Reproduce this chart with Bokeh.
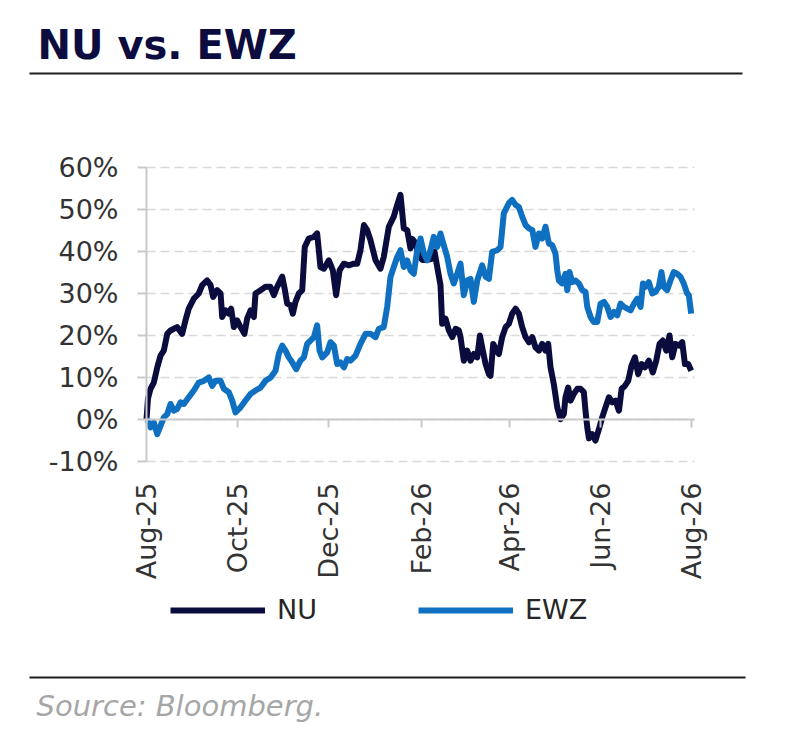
import math
import numpy as np
import pandas as pd
from bokeh.plotting import figure
from bokeh.models import (Range1d, FixedTicker, PrintfTickFormatter, DatetimeTickFormatter,
                          LinearAxis, DatetimeAxis, Grid,
                          Legend, LegendItem, ColumnDataSource)
from bokeh.core.properties import value
from bokeh.embed import file_html
from bokeh.resources import INLINE

# ---------------- data (days after 1 Aug 2025, cumulative return in %) ----------------
base_date = "2025-08-01"

nu_days = [0, 1, 2.7, 4.9, 7.2, 9.4, 11.6, 13.9, 16.1, 20.5,
           23.9, 26.1, 28.3, 31.7, 35, 37.3, 40.6, 42.9, 44.6, 47.3,
           49.6, 50.7, 52.9, 55.1, 56.7, 58.5, 60.7, 63, 65.6, 67.4,
           69.7, 71.9, 73, 76.4, 79.7, 83, 85.3, 87.5, 90.9, 92.7,
           94.2, 96.4, 98, 99.8, 102, 104.3, 106, 108.7, 112.1, 114.3,
           116.5, 118.8, 122.1, 124.8, 127, 129.3, 132.2, 135.5, 138.9, 141.1,
           143.3, 145.6, 147.8, 150, 153.4, 156.7, 158.9, 162.3, 165.6, 167.9,
           170.1, 172.3, 174.6, 176.8, 178, 180.2, 182.4, 184.7, 188, 190.7,
           192.9, 194.7, 196.9, 198, 200.3, 202.5, 204.8, 207, 209.2, 210.3,
           212.5, 214.8, 217, 219.2, 221.5, 223.3, 224.8, 227.1, 229.3, 230.4,
           232.2, 234.4, 236, 238.2, 240.5, 242.7, 244.9, 247.2, 249.4, 251.6,
           253.9, 256.1, 258.4, 260.5, 262.8, 265, 267.2, 269, 270.6, 272.8,
           275.1, 277.3, 279.5, 280.6, 282.4, 284, 286.2, 288.5, 290.7, 292.9,
           294, 295.2, 296.3, 298.5, 300.7, 303, 305.2, 307.4, 309.7, 311.9,
           314.1, 316.4, 318.2, 320.4, 322.6, 324.8, 327.1, 329.3, 331.6, 333.8,
           336.4, 339.1, 341.4, 343.6, 345.8, 348.1, 350.3, 352.1, 354.3, 356.6,
           358.8, 360.6, 362.8, 364.8]
nu_values = [0, 5, 7.3, 8.8, 12.4, 15.2, 16.4, 20.4, 21.2, 22,
             20.4, 23.6, 26.4, 28.8, 30, 32, 33.1, 32, 29.2, 30.8,
             30, 24.4, 26, 25.2, 26.4, 22, 23.6, 22, 20.4, 24,
             26, 24.4, 30, 30.8, 31.6, 31.6, 29.6, 31.6, 34, 30.8,
             27.6, 27.2, 25.2, 28, 30, 30.8, 41.1, 43.1, 43.5, 44.3,
             36.3, 35.9, 37.9, 35.5, 29.6, 35.5, 37.1, 36.7, 37.1, 37.1,
             40.3, 46.3, 45.1, 42.7, 37.9, 35.9, 38.7, 45.9, 48.3, 51.1,
             53.5, 45.5, 45.1, 40.7, 43, 42, 39, 38, 38, 38.2,
             40, 36.3, 32, 22.8, 24, 21.2, 19.6, 21.6, 21.2, 19.6,
             14, 16.4, 14, 15.6, 14.8, 20, 17.2, 13.2, 10.8, 10.4,
             18, 16.4, 15.6, 19.6, 22, 22.8, 25.2, 26.4, 25.2, 22,
             19.6, 18.4, 19.6, 17.2, 16.4, 18, 16.4, 18, 12.4, 8.4,
             2.9, 0.1, 1.3, 5.3, 7.6, 4.5, 6.1, 7.3, 7.3, 6.5,
             2.1, -1.9, -4.5, -3.5, -5, -2.3, 0.5, 2.9, 5.3, 4.1,
             4.5, 2.1, 7.3, 8, 9.2, 12.8, 14.8, 10.8, 13.2, 12.4,
             14, 11.2, 14, 18, 18.8, 16.4, 20, 14.8, 18, 17.6,
             18.4, 13.2, 13.2, 11.6]

ewz_days = [0, 0.9, 2.7, 4.9, 7.2, 9.4, 11.6, 13.9, 16.1, 18.3,
            20.5, 22.8, 25, 28.3, 31.7, 35, 38.4, 41.7, 44, 46.2,
            49.6, 51.8, 55.1, 57.4, 59.6, 63, 66.3, 69.7, 73, 76.4,
            79.7, 83.1, 86.4, 88.6, 90.9, 93.1, 95.3, 97.6, 100.3, 103.1,
            105.4, 107.6, 109.8, 112.1, 114.3, 115.9, 117.7, 121, 123.2, 125.5,
            127.7, 129.9, 132.2, 134.4, 136.6, 140, 143.3, 146.7, 150, 153.4,
            155.6, 158.9, 161.2, 163.4, 165.6, 167.9, 170.1, 172.3, 174.6, 176.8,
            179, 181.3, 183.5, 185.8, 188, 190.2, 192.4, 194.7, 196.9, 199.1,
            201.4, 203.6, 205.8, 208.1, 210.3, 212.5, 214.8, 217, 219.2, 221.5,
            224.8, 227.1, 229.3, 231.5, 234.9, 237.1, 239.3, 242.7, 244.9, 247.2,
            249.4, 251.6, 253.9, 256.1, 258.4, 260.5, 262.8, 265, 267.2, 269.5,
            271.7, 273.9, 275.1, 276.2, 278.4, 280.6, 281.8, 283.3, 285.1, 287.3,
            289.6, 291.8, 294, 295.2, 297.4, 299.6, 301.9, 304.1, 306.4, 308.6,
            310.8, 313.1, 315.3, 317.5, 319.8, 322, 324.2, 326.5, 328.7, 330.9,
            332.5, 334.2, 336.4, 338.7, 340.9, 343.1, 344.9, 346.4, 348.7, 350.9,
            353.1, 355.4, 357.6, 359.8, 362.1, 363.2, 364.8]
ewz_values = [0, -0.3, -1.9, -0.7, -3.5, -1.5, 0.5, 1.3, 3.7, 2.1,
              2.5, 4.1, 3.7, 5.3, 6.9, 8.8, 9.2, 10, 8, 9.2,
              9.2, 7.3, 6.5, 4.5, 1.7, 2.9, 4.5, 6.1, 6.9, 7.6,
              9.2, 10, 11.6, 15.6, 17.6, 16.4, 14.8, 13.6, 12, 14,
              14.8, 18, 18.8, 19.6, 22.4, 16.4, 14.8, 16, 18.4, 17.6,
              13.2, 13.6, 12.4, 14.4, 14, 15.2, 18, 20.4, 20.4, 19.6,
              21.6, 22, 26.8, 33.9, 36.3, 38.7, 40.3, 36.3, 37.9, 35.5,
              34.7, 40.3, 43.1, 39.5, 37.9, 40.3, 43.5, 41.1, 44.3, 41.5,
              38.7, 34.7, 32.4, 34.7, 37.1, 29.6, 33.1, 33.5, 28, 33.1,
              36.7, 34, 33.5, 39.9, 40.3, 41.1, 49.1, 51.5, 52.3, 51.1,
              50.6, 48.3, 46.3, 45.5, 45.1, 41.1, 44.3, 43.1, 45.9, 41.9,
              41.5, 39.5, 35.5, 33.1, 32.4, 34.7, 30.8, 35.1, 32.7, 33.1,
              32.4, 30.8, 30.4, 26.8, 24.4, 23.2, 23.2, 27.6, 28, 26.8,
              24.4, 25.6, 24.8, 27.6, 26.8, 26.4, 26, 27.6, 28.8, 26.8,
              32.4, 31.6, 32.7, 30, 30.4, 31.6, 35.1, 31.6, 30.8, 33.1,
              35.1, 34.7, 34, 32.4, 30, 29.6, 25.2]

x_tick_dates = ["2025-08-01", "2025-10-01", "2025-12-01", "2026-02-01",
                "2026-04-01", "2026-06-01", "2026-08-01"]
y_ticks = [-10, 0, 10, 20, 30, 40, 50, 60]
series_names = ["NU", "EWZ"]
title_text = "NU vs. EWZ"
source_text = "Source: Bloomberg."

# ---------------- styles / layout ----------------
FONT = "DejaVu Sans"
NU_COLOR = "#0b0c3e"
EWZ_COLOR = "#0f70c1"
GRID_COLOR = "#d9d9d9"
AXIS_COLOR = "#c9c9c9"
LABEL_COLOR = "#333333"
RULE_COLOR = "#1e1e1e"
W, H = 800, 751
PLOT_LEFT, PLOT_TOP, PLOT_BOTTOM = 146, 167, 461   # pixel position of the plotting area
PX_PER_DAY = 545 / 365.0
PX_PER_PCT = (PLOT_BOTTOM - PLOT_TOP) / 70.0

t0 = pd.Timestamp(base_date)
x_start = t0 - pd.Timedelta(days=PLOT_LEFT / PX_PER_DAY)
x_end = t0 + pd.Timedelta(days=(W - PLOT_LEFT) / PX_PER_DAY)
y_low = y_ticks[0] - (H - PLOT_BOTTOM) / PX_PER_PCT
y_high = y_ticks[-1] + PLOT_TOP / PX_PER_PCT

nu_x = t0 + pd.to_timedelta(np.array(nu_days), unit="D")
ewz_x = t0 + pd.to_timedelta(np.array(ewz_days), unit="D")
nu_src = ColumnDataSource(dict(x=nu_x, y=nu_values))
ewz_src = ColumnDataSource(dict(x=ewz_x, y=ewz_values))

tick_ts = [pd.Timestamp(d) for d in x_tick_dates]
tick_ms = [t.value // 10**6 for t in tick_ts]
x_axis_end_ms = (tick_ts[-1] + pd.Timedelta(days=2)).value // 10**6

p = figure(x_axis_type="datetime", output_backend="svg", toolbar_location=None,
           frame_width=W, frame_height=H, min_border=0,
           x_axis_location=None, y_axis_location=None, title=None,
           x_range=Range1d(x_start, x_end), y_range=Range1d(y_low, y_high))
p.outline_line_color = None
p.background_fill_color = "white"
p.border_fill_color = "white"
for g in list(p.grid):
    g.visible = False
p.extra_x_ranges = {"px": Range1d(0, W)}
p.extra_y_ranges = {"px": Range1d(H, 0)}

# dashed horizontal grid limited to the plotting area
grid = Grid(dimension=1, ticker=FixedTicker(ticks=y_ticks),
            cross_bounds=(tick_ms[0], x_axis_end_ms),
            grid_line_color=GRID_COLOR, grid_line_width=1.5, grid_line_dash="9 5")
p.add_layout(grid)

# y axis at Aug-25
ya = LinearAxis(fixed_location=tick_ms[0], bounds=(y_ticks[0], y_ticks[-1]),
                ticker=FixedTicker(ticks=y_ticks), formatter=PrintfTickFormatter(format="%d%%"))
ya.axis_line_color = AXIS_COLOR
ya.axis_line_width = 2
ya.major_tick_line_color = AXIS_COLOR
ya.major_tick_line_width = 2
ya.major_tick_in = 0
ya.major_tick_out = 9
ya.minor_tick_line_color = None
ya.major_label_text_font = FONT
ya.major_label_text_font_size = "27px"
ya.major_label_text_color = LABEL_COLOR
ya.major_label_standoff = 19
p.add_layout(ya, "left")

# x axis crossing at 0 %, its labels placed below the -10 % line
xa = DatetimeAxis(fixed_location=0, bounds=(tick_ms[0], x_axis_end_ms),
                  ticker=FixedTicker(ticks=tick_ms),
                  formatter=DatetimeTickFormatter(days="%b-%y", months="%b-%y", years="%b-%y",
                                                  hours="%b-%y", minutes="%b-%y"))
xa.major_label_orientation = math.pi / 2
xa.axis_line_color = AXIS_COLOR
xa.axis_line_width = 2
xa.major_tick_line_color = AXIS_COLOR
xa.major_tick_line_width = 2
xa.major_tick_in = 0
xa.major_tick_out = 8
xa.minor_tick_line_color = None
xa.major_label_text_font = FONT
xa.major_label_text_font_size = "27px"
xa.major_label_text_color = LABEL_COLOR
xa.major_label_standoff = 55
p.add_layout(xa, "below")

# series
r_nu = p.line("x", "y", source=nu_src, line_color=NU_COLOR, line_width=6, line_join="round")
r_ewz = p.line("x", "y", source=ewz_src, line_color=EWZ_COLOR, line_width=6, line_join="round")

legend = Legend(items=[LegendItem(label=series_names[0], renderers=[r_nu]),
                       LegendItem(label=series_names[1], renderers=[r_ewz])],
                orientation="horizontal", location=(170, 126),
                glyph_width=95, glyph_height=30, label_height=30, label_width=141,
                label_standoff=12, spacing=0, padding=0, margin=0,
                border_line_color=None, background_fill_alpha=0,
                label_text_font=FONT, label_text_font_size="27px",
                label_text_color="#262626")
p.add_layout(legend)

# title, rules and source note (in page pixels)
p.text(x=[37], y=[44], text=[title_text], text_font=value(FONT),
       text_font_size="40px", text_font_style="bold", text_color="#0c0c3e",
       text_baseline="middle", text_align="left",
       x_range_name="px", y_range_name="px")
p.line(x=[29, 742], y=[73, 73], line_color=RULE_COLOR, line_width=2,
       x_range_name="px", y_range_name="px")
p.line(x=[29, 745], y=[677, 677], line_color=RULE_COLOR, line_width=2,
       x_range_name="px", y_range_name="px")
p.text(x=[36], y=[705], text=[source_text], text_font=value(FONT),
       text_font_size="29px", text_font_style="italic", text_color="#a6a6a6",
       text_baseline="middle", text_align="left",
       x_range_name="px", y_range_name="px")

open("out.html", "w").write(file_html(p, INLINE, title=title_text))
